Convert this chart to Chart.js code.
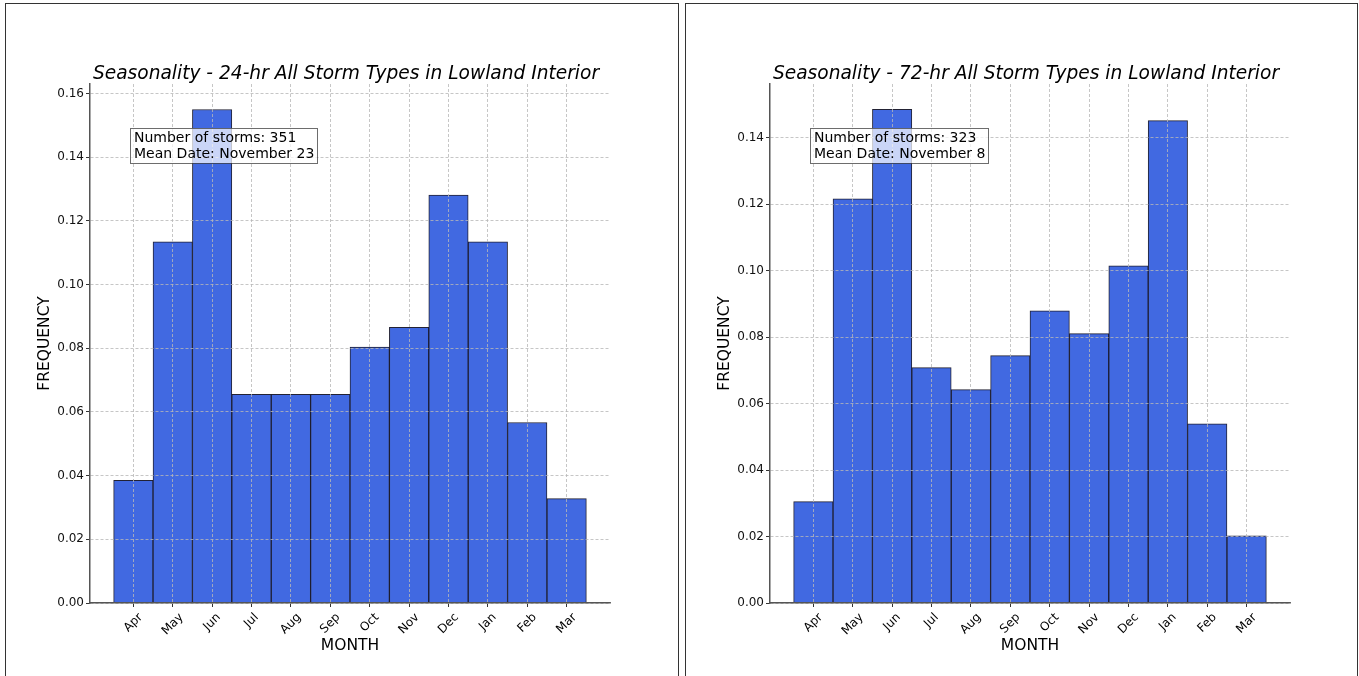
<!DOCTYPE html>
<html>
<head>
<meta charset="utf-8">
<script src="https://cdn.jsdelivr.net/npm/chart.js@4"></script>
<style>
  html, body { margin: 0; padding: 0; background: #fff; width: 1359px; height: 676px; overflow: hidden; position: relative; }
  .frame { position: absolute; top: 3px; height: 700px; border: 1px solid #333; box-sizing: border-box; }
  canvas { position: absolute; top: 0; }
</style>
</head>
<body>
<div class="frame" style="left:5px;width:674px"></div>
<div class="frame" style="left:685px;width:673px"></div>
<canvas id="c24" width="680" height="676" style="left:0"></canvas>
<canvas id="c72" width="679" height="676" style="left:680px"></canvas>

<script>
// Monthly storm frequency, water-year order (Apr..Mar)
const months = ['Apr', 'May', 'Jun', 'Jul', 'Aug', 'Sep', 'Oct', 'Nov', 'Dec', 'Jan', 'Feb', 'Mar'];
const freq24 = [0.0385, 0.1134, 0.1550, 0.0655, 0.0655, 0.0655, 0.0804, 0.0866, 0.1281, 0.1134, 0.0567, 0.0328];
const freq72 = [0.0305, 0.1216, 0.1485, 0.0708, 0.0642, 0.0744, 0.0879, 0.0810, 0.1014, 0.1451, 0.0539, 0.0202];
const storms24 = 351, meanDate24 = 'November 23';
const storms72 = 323, meanDate72 = 'November 8';
const yTop24 = 0.163, yTop72 = 0.1561;
const yStep = 0.02;

const FONT = "'DejaVu Sans', 'Liberation Sans', sans-serif";

// Title, rotated month labels, axis titles and the summary box
const decor = {
  id: 'decor',
  afterDraw(chart, args, opts) {
    const { ctx, chartArea: a, scales: { x } } = chart;
    const cx = (a.left + a.right) / 2;
    ctx.save();
    ctx.fillStyle = '#000';

    ctx.font = `italic 18.6px ${FONT}`;
    ctx.textAlign = 'center';
    ctx.textBaseline = 'alphabetic';
    ctx.fillText(opts.title, cx - 4, a.top - 5);

    // month labels at 45 degrees, centred under each tick
    ctx.font = `12px ${FONT}`;
    ctx.textBaseline = 'middle';
    const lh = 14;
    x.ticks.forEach(t => {
      const label = months[t.value];
      const w = ctx.measureText(label).width;
      const px = x.getPixelForValue(t.value);
      const cy = a.bottom + 4 + 3.5 + (w + lh) * Math.SQRT1_2 / 2;
      ctx.save();
      ctx.translate(px, cy);
      ctx.rotate(-Math.PI / 4);
      ctx.fillText(label, 0, 0);
      ctx.restore();
    });

    ctx.font = `15.5px ${FONT}`;
    ctx.fillText('MONTH', cx, a.bottom + 43);
    ctx.save();
    ctx.translate(a.left - 45, (a.top + a.bottom) / 2);
    ctx.rotate(-Math.PI / 2);
    ctx.fillText('FREQUENCY', 0, 0);
    ctx.restore();

    // summary box
    ctx.font = `14px ${FONT}`;
    const lines = opts.note;
    const tw = Math.max(...lines.map(l => ctx.measureText(l).width));
    const pad = 3.5;
    const bx = Math.round(a.left + 40), by = Math.round(a.top + 44);
    const bw = Math.round(tw + 2 * pad), bh = 35;
    ctx.fillStyle = 'rgba(255,255,255,0.72)';
    ctx.fillRect(bx, by, bw, bh);
    ctx.strokeStyle = 'rgba(60,60,60,0.75)';
    ctx.lineWidth = 1;
    ctx.strokeRect(bx + 0.5, by + 0.5, bw, bh);
    ctx.fillStyle = '#000';
    ctx.textAlign = 'left';
    ctx.textBaseline = 'alphabetic';
    ctx.fillText(lines[0], bx + pad + 0.5, by + 14);
    ctx.fillText(lines[1], bx + pad + 0.5, by + 30);
    ctx.restore();
  }
};

function makeChart(id, values, yTop, title, storms, meanDate) {
  const canvas = document.getElementById(id);
  return new Chart(canvas, {
    type: 'bar',
    data: {
      datasets: [{
        data: months.map((m, i) => ({ x: i, y: values[i] })),
        backgroundColor: '#4169e1',
        borderColor: 'rgba(10,10,30,0.9)',
        borderWidth: 1,
        borderSkipped: false,
        barPercentage: 1,
        categoryPercentage: 1
      }]
    },
    options: {
      responsive: false,
      animation: false,
      events: [],
      layout: { padding: { left: 30, top: 84, right: canvas.width - 610, bottom: 23 } },
      plugins: {
        legend: { display: false },
        tooltip: { enabled: false },
        decor: { title, note: [`Number of storms: ${storms}`, `Mean Date: ${meanDate}`] }
      },
      scales: {
        x: {
          type: 'linear',
          min: -1.1,
          max: 12.1,
          offset: false,
          afterFit(s) { s.height = 50; },
          afterBuildTicks(s) { s.ticks = months.map((m, i) => ({ value: i })); },
          ticks: { display: false },
          grid: {
            offset: false, z: 1,
            color: '#b8b8b8', lineWidth: 0.8,
            drawTicks: true, tickLength: 4, tickColor: '#333', tickWidth: 1
          },
          border: { display: true, color: '#555', width: 1.5, dash: [3, 2], z: 2 }
        },
        y: {
          type: 'linear',
          min: 0,
          max: yTop,
          afterFit(s) { s.width = 60; },
          ticks: {
            stepSize: yStep,
            includeBounds: false,
            padding: 2,
            color: '#111',
            font: { family: FONT, size: 12 },
            callback: v => v.toFixed(2)
          },
          grid: {
            z: 1,
            color: '#b8b8b8', lineWidth: 0.8,
            drawTicks: true, tickLength: 4, tickColor: '#333', tickWidth: 1
          },
          border: { display: true, color: '#555', width: 1.5, dash: [3, 2], z: 2 }
        }
      }
    },
    plugins: [decor]
  });
}

makeChart('c24', freq24, yTop24, 'Seasonality - 24-hr All Storm Types in Lowland Interior', storms24, meanDate24);
makeChart('c72', freq72, yTop72, 'Seasonality - 72-hr All Storm Types in Lowland Interior', storms72, meanDate72);
</script>
</body>
</html>
